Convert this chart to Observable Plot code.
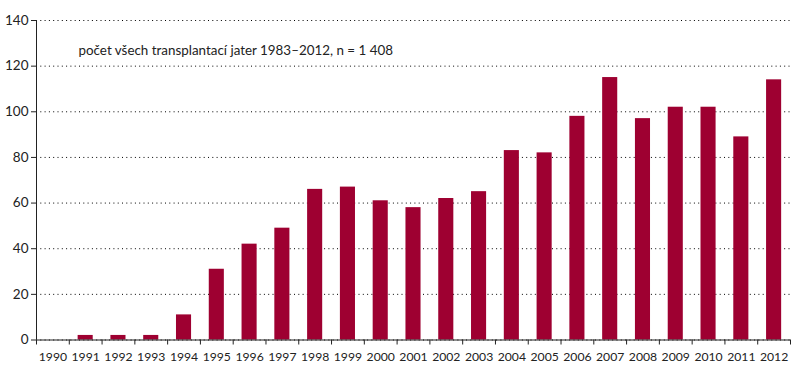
<!DOCTYPE html>
<html><head><meta charset="utf-8">
<script src="https://cdn.jsdelivr.net/npm/d3@7"></script>
<script src="https://cdn.jsdelivr.net/npm/@observablehq/plot@0.6"></script>
<style>body{margin:0;background:#fff} svg{font-family:Lato,sans-serif}</style>
</head><body><div id="chart"></div>
<script>
const years = [1990,1991,1992,1993,1994,1995,1996,1997,1998,1999,2000,2001,2002,2003,2004,2005,2006,2007,2008,2009,2010,2011,2012];
const transplants = [0,2,2,2,11,31,42,49,66,67,61,58,62,65,83,82,98,115,97,102,102,89,114];
const yTicks = [0,20,40,60,80,100,120,140];
const note = "počet všech transplantací jater 1983–2012, n = 1 408";

const data = years.map((year, i) => ({year, value: transplants[i]}));
const boundaries = years.concat(years[years.length - 1] + 1).map(y => y - 0.5);
const half = 0.23;

const chart = Plot.plot({
  width: 799,
  height: 374,
  marginLeft: 36,
  marginRight: 9,
  marginTop: 20,
  marginBottom: 34.5,
  style: {fontFamily: "Lato, sans-serif", fontSize: "12.5px", color: "#222", background: "#fff"},
  x: {domain: [boundaries[0], boundaries[boundaries.length - 1]]},
  y: {domain: [0, 140]},
  marks: [
    Plot.gridY(yTicks, {stroke: "#000", strokeOpacity: 1, strokeDasharray: "1,3.3", strokeWidth: 1}),
    Plot.rectY(data, {x1: d => d.year - half, x2: d => d.year + half, y: "value", fill: "#9e0031"}),
    Plot.axisY(yTicks, {tickSize: 5, tickPadding: 3, label: null, stroke: "#222", fontSize: 13.5}),
    Plot.axisX(boundaries, {tickSize: 5, tickFormat: () => "", label: null, stroke: "#222"}),
    Plot.axisX(years, {tickSize: 0, tickPadding: 12, tickFormat: d => String(d), label: null, fontSize: 12.2}),
    Plot.ruleY([0], {stroke: "#222"}),
    Plot.ruleX([boundaries[0]], {stroke: "#222"}),
    Plot.text([note], {frameAnchor: "top-left", dx: 42, dy: 25, textAnchor: "start", fill: "#222", fontSize: 13.4})
  ]
});
document.getElementById("chart").append(chart);
</script>
</body></html>
